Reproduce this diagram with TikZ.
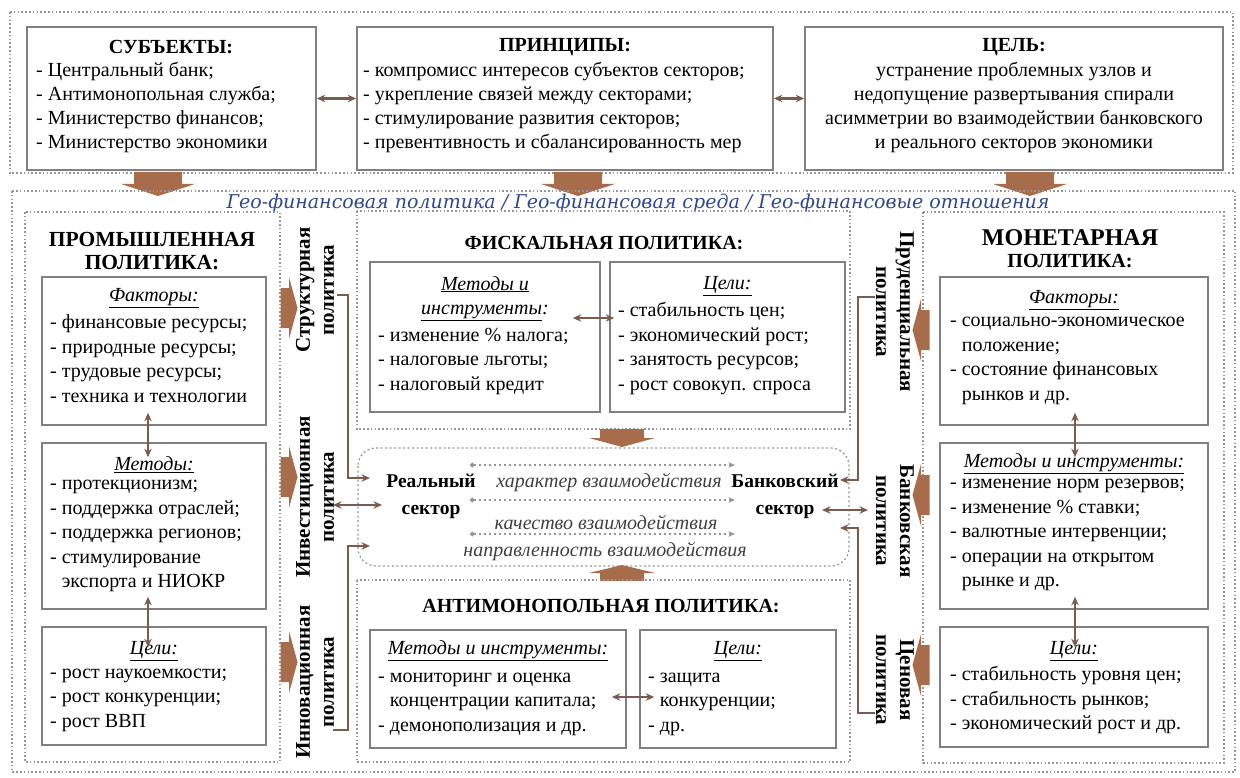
\documentclass[tikz,border=0pt]{standalone}
\usepackage{fontspec}
\setmainfont{Liberation Serif}
\newfontfamily\geofont{DejaVu Serif}
\usetikzlibrary{arrows.meta}

\definecolor{boxgray}{RGB}{128,128,128}
\definecolor{dotgray}{RGB}{150,150,150}
\definecolor{linkbrown}{RGB}{122,92,78}
\definecolor{arrbrown}{RGB}{166,108,76}
\definecolor{geoblue}{RGB}{48,72,135}

\begin{document}
\begin{tikzpicture}[x=1pt,y=-1pt,>={Stealth[length=8.5pt,width=7.5pt]}]
    % -----------------------------
    % Parameters (1 unit = 1 px of the layout)
    % -----------------------------
    \def\lw{1.6pt}          % panel border width
    \def\bodysize{20}       % body text size
    \def\bodyskip{24.5}     % body line distance

    \newcommand{\hdfont}{\bfseries\fontsize{20}{23}\selectfont}
    \newcommand{\txfont}{\fontsize{\bodysize}{\bodyskip}\selectfont}
    \newcommand{\subfont}{\itshape\fontsize{\bodysize}{\bodyskip}\selectfont}
    \newcommand{\vfont}{\bfseries\fontsize{21}{24}\selectfont}

    % -----------------------------
    % Styles and helpers
    % -----------------------------
    \tikzset{
      panel/.style={draw=boxgray, line width=\lw, fill=white, inner sep=0pt},
      frame/.style={draw=dotgray, line width=1.4pt, dash pattern=on 1.6pt off 2.2pt},
      hd/.style={font=\hdfont, inner sep=0pt},
      tx/.style={font=\txfont, align=left, inner sep=0pt},
      txc/.style={font=\txfont, align=center, inner sep=0pt},
      sub/.style={font=\subfont, inner sep=0pt},
      vlbl/.style={font=\vfont, align=center, inner sep=0pt},
      link/.style={draw=linkbrown, line width=2.2pt},
      dotlink/.style={draw=dotgray, line width=1.3pt, dash pattern=on 2pt off 3pt,
        {Circle[length=4.5pt]}-{Stealth[length=6.5pt,width=5.5pt]}}
    }

    % flat brown block arrow: x, y, angle, length, shaft half-width, head half-width
    \newcommand{\blockarr}[6]{%
      \begin{scope}[shift={(#1,#2)}, rotate=#3]
        \fill[arrbrown] (-#4/2,-#5) -- (0,-#5) -- (0,-#6) -- (#4/2,0)
          -- (0,#6) -- (0,#5) -- (-#4/2,#5) -- cycle;
      \end{scope}
    }

    \fill[white] (0,0) rectangle (1240,778);
    \useasboundingbox (0,0) rectangle (1240,778);

    % -----------------------------
    % Top row: subjects, principles, goal
    % -----------------------------
    \draw[frame] (10,12) rectangle (1233,173);

    \node[panel, minimum width=289pt, minimum height=143pt] (subj) at (171.5,98.5) {};
    \node[hd] (subjT) at (171,47) {СУБЪЕКТЫ:};
    \node[tx, anchor=west, font=\fontsize{\bodysize}{23.7}\selectfont] (subjL) at (36,107.5)
      {- Центральный банк;\\- Антимонопольная служба;\\- Министерство финансов;\\- Министерство экономики};

    \node[panel, minimum width=416pt, minimum height=143pt] (princ) at (565,98.5) {};
    \node[hd] (princT) at (565,47) {ПРИНЦИПЫ:};
    \node[tx, anchor=west, font=\fontsize{\bodysize}{23.7}\selectfont] (princL) at (363,107.5)
      {- компромисс интересов субъектов секторов;\\- укрепление связей между секторами;\\- стимулирование развития секторов;\\- превентивность и сбалансированность мер};

    \node[panel, minimum width=418pt, minimum height=143pt] (goal) at (1014,98.5) {};
    \node[hd] (goalT) at (1014,47) {ЦЕЛЬ:};
    \node[txc, font=\fontsize{\bodysize}{23.7}\selectfont] (goalL) at (1014,107.5)
      {устранение проблемных узлов и\\недопущение развертывания спирали\\асимметрии во взаимодействии банковского\\и реального секторов экономики};

    \draw[link,<->] (subj.east) -- (princ.west);
    \draw[link,<->] (princ.east) -- (goal.west);

    \blockarr{158}{184}{-90}{24}{24}{37}
    \blockarr{578}{184}{-90}{24}{24}{37}
    \blockarr{1030}{184}{-90}{24}{24}{37}

    % -----------------------------
    % Lower frame and its heading
    % -----------------------------
    \draw[frame] (12,191) rectangle (1235,772);
    \node[font=\geofont\itshape\fontsize{19}{21}\selectfont, text=geoblue, inner sep=0pt] (geo) at (638,203)
      {Гео-финансовая политика / Гео-финансовая среда / Гео-финансовые отношения};

    % -----------------------------
    % Industrial policy (left)
    % -----------------------------
    \draw[frame] (25,212) rectangle (280,762);
    \node[hd, font=\bfseries\fontsize{21.5}{23}\selectfont, align=center] (promT) at (152,251.5) {ПРОМЫШЛЕННАЯ\\ПОЛИТИКА:};

    \node[panel, minimum width=224pt, minimum height=148pt] (promFac) at (154,351) {};
    \node[sub] (promFacT) at (154,298) {\underline{Факторы:}};
    \node[tx, anchor=west] (promFacL) at (50,358.5)
      {- финансовые ресурсы;\\- природные ресурсы;\\- трудовые ресурсы;\\- техника и технологии};

    \node[panel, minimum width=224pt, minimum height=166pt] (promMet) at (154,526) {};
    \node[sub] (promMetT) at (154,465) {\underline{Методы:}};
    \node[tx, anchor=west] (promMetL) at (50,536)
      {- протекционизм;\\- поддержка отраслей;\\- поддержка регионов;\\- стимулирование\\\phantom{- }экспорта и НИОКР};

    \node[panel, minimum width=224pt, minimum height=118pt] (promGoal) at (154,686) {};
    \node[sub] (promGoalT) at (154,651) {\underline{Цели:}};
    \node[tx, anchor=west] (promGoalL) at (50,700)
      {- рост наукоемкости;\\- рост конкуренции;\\- рост ВВП};

    \draw[link,<->, shorten <=-13pt, shorten >=-15pt] ([xshift=-6pt]promFac.south) -- ([xshift=-6pt]promMet.north);
    \draw[link,<->, shorten <=-13pt, shorten >=-21pt] ([xshift=-6pt]promMet.south) -- ([xshift=-6pt]promGoal.north);

    % -----------------------------
    % Policy labels (left side)
    % -----------------------------
    \node[vlbl, rotate=90] (lStruct) at (315,290) {Структурная\\политика};
    \node[vlbl, rotate=90] (lInvest) at (315,497) {Инвестиционная\\политика};
    \node[vlbl, rotate=90] (lInnov) at (315,682) {Инновационная\\политика};

    \blockarr{289}{308}{0}{17}{20}{31}
    \blockarr{289}{477}{0}{17}{20}{31}
    \blockarr{289}{662}{0}{17}{20}{31}

    % -----------------------------
    % Fiscal policy (top middle)
    % -----------------------------
    \draw[frame] (357,211) rectangle (850,429);
    \node[hd] (fiscT) at (604,243) {ФИСКАЛЬНАЯ ПОЛИТИКА:};

    \node[panel, minimum width=230pt, minimum height=150pt] (fiscMet) at (485,337) {};
    \node[sub, align=center] (fiscMetT) at (485,298.5) {\underline{Методы и}\\\underline{инструменты}:};
    \node[tx, anchor=west] (fiscMetL) at (378,361)
      {- изменение \% налога;\\- налоговые льготы;\\- налоговый кредит};

    \node[panel, minimum width=235pt, minimum height=150pt] (fiscGoal) at (727.5,337) {};
    \node[sub] (fiscGoalT) at (727.5,286) {\underline{Цели:}};
    \node[tx, anchor=west] (fiscGoalL) at (618,348.5)
      {- стабильность цен;\\- экономический рост;\\- занятость ресурсов;\\- рост совокуп. спроса};

    \draw[link,<->, shorten <=-28pt, shorten >=-5pt] ([yshift=19pt]fiscMet.east) -- ([yshift=19pt]fiscGoal.west);

    % -----------------------------
    % Interaction of the two sectors (centre)
    % -----------------------------
    \draw[dotgray, line width=1.2pt, dash pattern=on 2pt off 2.5pt, rounded corners=18pt] (358,448) rectangle (849,566);

    \node[font=\bfseries\fontsize{19.5}{27}\selectfont, align=center, inner sep=0pt] (real) at (431,496.5) {Реальный\\сектор};
    \node[font=\bfseries\fontsize{19.5}{27}\selectfont, align=center, inner sep=0pt] (bank) at (785,496.5) {Банковский\\сектор};

    \node[sub, text=black!75] (charI) at (609,483) {характер взаимодействия};
    \node[sub, text=black!75] (qualI) at (606,522) {качество взаимодействия};
    \node[sub, text=black!75] (dirI) at (605,552) {направленность взаимодействия};

    \foreach \yy [count=\i] in {465,500,534} {
      \coordinate (dl\i) at (470,\yy);
      \coordinate (dr\i) at (735,\yy);
      \draw[dotlink] (dl\i) -- (dr\i);
    }

    \blockarr{622}{438}{-90}{18}{22}{33}
    \blockarr{622}{573}{90}{16}{22}{33}

    % -----------------------------
    % Antimonopoly policy (bottom middle)
    % -----------------------------
    \draw[frame] (357,580) rectangle (850,762);
    \node[hd] (antiT) at (601,606) {АНТИМОНОПОЛЬНАЯ ПОЛИТИКА:};

    \node[panel, minimum width=256pt, minimum height=118pt] (antiMet) at (498,689) {};
    \node[sub] (antiMetT) at (498,651) {\underline{Методы и инструменты:}};
    \node[tx, anchor=west] (antiMetL) at (378,704)
      {- мониторинг и оценка\\\phantom{- }концентрации капитала;\\- демонополизация и др.};

    \node[panel, minimum width=196pt, minimum height=118pt] (antiGoal) at (738,689) {};
    \node[sub] (antiGoalT) at (738,651) {\underline{Цели:}};
    \node[tx, anchor=west] (antiGoalL) at (648,704)
      {- защита\\\phantom{- }конкуренции;\\- др.};

    \draw[link,<->, shorten <=-15pt, shorten >=-15pt] ([yshift=-8pt]antiMet.east) -- ([yshift=-8pt]antiGoal.west);

    % -----------------------------
    % Monetary policy (right)
    % -----------------------------
    \draw[frame] (923,212) rectangle (1224,763);
    \node[font=\bfseries\fontsize{24}{26}\selectfont, inner sep=0pt] (monT1) at (1070,238) {МОНЕТАРНАЯ};
    \node[hd] (monT2) at (1070,261) {ПОЛИТИКА:};

    \node[panel, minimum width=268pt, minimum height=148pt] (monFac) at (1074,351) {};
    \node[sub] (monFacT) at (1074,300) {\underline{Факторы:}};
    \node[tx, anchor=west] (monFacL) at (950,361)
      {- социально-экономическое\\\phantom{- }положение;\\- состояние финансовых\\\phantom{- }рынков и др.};

    \node[panel, minimum width=268pt, minimum height=166pt] (monMet) at (1074,526) {};
    \node[sub] (monMetT) at (1074,464) {\underline{Методы и инструменты:}};
    \node[tx, anchor=west] (monMetL) at (950,535)
      {- изменение норм резервов;\\- изменение \% ставки;\\- валютные интервенции;\\- операции на открытом\\\phantom{- }рынке и др.};

    \node[panel, minimum width=268pt, minimum height=120pt] (monGoal) at (1074,687) {};
    \node[sub] (monGoalT) at (1074,651) {\underline{Цели:}};
    \node[tx, anchor=west] (monGoalL) at (950,700)
      {- стабильность уровня цен;\\- стабильность рынков;\\- экономический рост и др.};

    \draw[link,<->, shorten <=-13pt, shorten >=-15pt] ([xshift=1pt]monFac.south) -- ([xshift=1pt]monMet.north);
    \draw[link,<->, shorten <=-13pt, shorten >=-21pt] ([xshift=1pt]monMet.south) -- ([xshift=1pt]monGoal.north);

    % -----------------------------
    % Policy labels (right side)
    % -----------------------------
    \node[vlbl, rotate=-90] (lPrud) at (895,312) {Пруденциальная\\политика};
    \node[vlbl, rotate=-90] (lBank) at (895,521) {Банковская\\политика};
    \node[vlbl, rotate=-90] (lPrice) at (895,680) {Ценовая\\политика};

    \blockarr{921}{330}{180}{17}{20}{31}
    \blockarr{921}{495}{180}{17}{20}{31}
    \blockarr{921}{665}{180}{17}{20}{31}

    % -----------------------------
    % Links from the policies to the sectors
    % -----------------------------
    \coordinate (sL) at (337,295);  \coordinate (rA) at (370,478);
    \coordinate (iL) at (333,505);  \coordinate (rB) at (382,505);
    \coordinate (nL) at (333,730);  \coordinate (rC) at (370,546);
    \coordinate (pR) at (875,297);  \coordinate (bA) at (840,480);
    \coordinate (kR) at (868,510);  \coordinate (bB) at (822,510);
    \coordinate (cR) at (875,713);  \coordinate (bC) at (840,528);

    \draw[link,->] (sL) -- ++(11,0) |- (rA);
    \draw[link,<->] (iL) -- (rB);
    \draw[link,->] (nL) -- ++(15,0) |- (rC);
    \draw[link,->] (pR) -- ++(-17,0) |- (bA);
    \draw[link,<->] (bB) -- (kR);
    \draw[link,->] (cR) -- ++(-17,0) |- (bC);

\end{tikzpicture}
\end{document}
